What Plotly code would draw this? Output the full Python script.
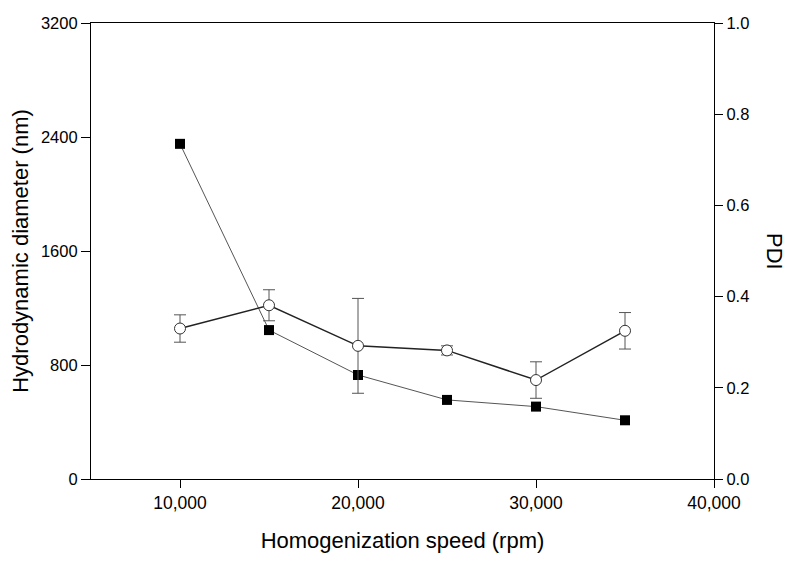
import plotly.graph_objects as go

speed = [10000, 15000, 20000, 25000, 30000, 35000]
diameter = [2352, 1045, 730, 555, 508, 412]
pdi = [0.330, 0.381, 0.292, 0.282, 0.217, 0.325]
pdi_err = [0.030, 0.034, 0.104, 0.010, 0.040, 0.040]

x_ticks = [10000, 20000, 30000, 40000]
y1_ticks = [0, 800, 1600, 2400, 3200]
y2_ticks = [0.0, 0.2, 0.4, 0.6, 0.8, 1.0]

FONT = "Liberation Sans, Arial, sans-serif"

fig = go.Figure()
fig.add_trace(go.Scatter(
    x=speed, y=diameter, mode="lines+markers",
    line=dict(color="#555555", width=1),
    marker=dict(symbol="square", size=10, color="black", line=dict(color="black", width=0)),
    yaxis="y", showlegend=False))
fig.add_trace(go.Scatter(
    x=speed, y=pdi, mode="lines+markers",
    line=dict(color="#222222", width=1.5),
    marker=dict(symbol="circle", size=11, color="white", line=dict(color="#333333", width=1)),
    error_y=dict(type="data", array=pdi_err, visible=True, color="#555555", thickness=1, width=6),
    yaxis="y2", showlegend=False))

fig.update_layout(
    width=790, height=561,
    margin=dict(l=83, r=84, t=15, b=90, autoexpand=False),
    paper_bgcolor="white", plot_bgcolor="white",
    font=dict(family=FONT, color="black", size=16),
    xaxis=dict(range=[5000, 40000], tickvals=x_ticks, tickformat=",", showgrid=False, zeroline=False,
               showline=True, linecolor="black", linewidth=1.2, mirror=True, automargin=False,
               ticks="outside", ticklen=8, tickcolor="black", tickfont=dict(size=17.5),
               title=dict(text="Homogenization speed (rpm)", font=dict(size=22), standoff=20)),
    yaxis=dict(range=[0, 3200], tickvals=y1_ticks, showgrid=False, zeroline=False, automargin=False,
               showline=True, linecolor="black", linewidth=1.2,
               ticks="outside", ticklen=9, tickcolor="black", tickfont=dict(size=16.5),
               title=dict(text="Hydrodynamic diameter (nm)", font=dict(size=22), standoff=14)),
    yaxis2=dict(range=[0, 1.0], tickvals=y2_ticks, tickformat=".1f", overlaying="y", side="right",
                showgrid=False, zeroline=False, showline=True, linecolor="black", linewidth=1.2,
                automargin=False, ticks="outside", ticklen=8, tickcolor="black", tickfont=dict(size=16.5)),
    annotations=[dict(text="PDI", textangle=90, x=1.0, xref="paper", xanchor="center",
                      y=0.5, yref="paper", showarrow=False, font=dict(size=22))],
)
fig.layout.annotations[0].x = (767 - 83) / 623.0

fig.write_html("out.html")
